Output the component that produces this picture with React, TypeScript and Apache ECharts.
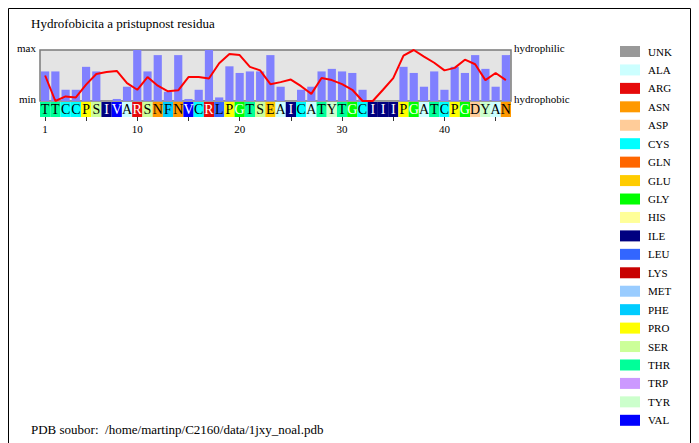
import React, { useEffect, useRef } from "react";
import * as echarts from "echarts";

const sequence = ["T","T","C","C","P","S","I","V","A","R","S","N","F","N","V","C","R","L","P","G","T","S","E","A","I","C","A","T","Y","T","G","C","I","I","I","P","G","A","T","C","P","G","D","Y","A","N"];

const accessibility = [0.58,0.58,0.22,0.22,0.67,0.58,0,0.04,0.28,1.0, 0.58,0.9,0.18,0.9,0.04,0.22,1.0,0.07,0.68,0.55, 0.58,0.58,0.9,0.28,0,0.22,0.28,0.58,0.63,0.58, 0.55,0.22,0,0,0,0.67,0.55,0.28,0.58,0.22, 0.67,0.55,0.9,0.63,0.28,0.9];

const hydrophobicity = [0.5,0,0.09,0.07,0.32,0.53,0.57,0.59,0.35,0.22, 0.47,0.3,0.19,0.21,0.47,0.47,0.44,0.74,0.92,0.9, 0.67,0.6,0.33,0.37,0.42,0.29,0.14,0.45,0.41,0.33, 0.22,0,0,0.22,0.45,0.89,1.0,0.87,0.75,0.6, 0.65,0.81,0.72,0.41,0.55,0.41];

const legendNames = ["UNK","ALA","ARG","ASN","ASP","CYS","GLN","GLU","GLY","HIS","ILE","LEU","LYS","MET","PHE","PRO","SER","THR","TRP","TYR","VAL"];
const legendColors = ["#999999","#ccffff","#e60a0a","#ff9900","#ffcc99","#00ffff","#ff6600","#ffcc00","#00ff00","#ffff99","#000080","#3366ff","#c80000","#99ccff","#00ccff","#ffff00","#ccff99","#00ff99","#cc99ff","#ccffcc","#0000ff"];
const oneToThree: Record<string, string> = { A:"ALA", R:"ARG", N:"ASN", D:"ASP", C:"CYS", Q:"GLN", E:"GLU", G:"GLY", H:"HIS", I:"ILE", L:"LEU", K:"LYS", M:"MET", F:"PHE", P:"PRO", S:"SER", T:"THR", W:"TRP", Y:"TYR", V:"VAL" };
const whiteText = ["ILE","VAL","ARG","GLY","LYS"];

const yLeftLabels = ["min","max"];
const yRightLabels = ["hydrophobic","hydrophilic"];
const titleText = "Hydrofobicita a pristupnost residua";
const footerText = "PDB soubor:\u00a0 /home/martinp/C2160/data/1jxy_noal.pdb";

const FONT = "'Liberation Serif', 'Times New Roman', serif";

export default function App() {
  const ref = useRef<HTMLDivElement>(null);
  useEffect(() => {
    if (!ref.current) return;
    const chart = echarts.init(ref.current, null, { renderer: "svg" });
    const residues = sequence.map((_, i) => String(i + 1));
    const colorOf = (l: string) => legendColors[legendNames.indexOf(oneToThree[l] || "UNK")];
    const stripData = sequence.map((l) => {
      const three = oneToThree[l] || "UNK";
      return {
        value: 1,
        itemStyle: { color: colorOf(l) },
        label: { color: whiteText.includes(three) ? "#ffffff" : "#000000" },
      };
    });
    const edgeRich = { a: { fontSize: 11, fontFamily: FONT, color: "#000", padding: [0, 0, 5, 0] } };
    const option: any = {
      animation: false,
      backgroundColor: "#ffffff",
      title: [
        { text: titleText, left: 31, top: 17, padding: 0, textStyle: { fontSize: 13, fontWeight: "normal", fontFamily: FONT, color: "#000" } },
        { text: footerText, left: 31, top: 423, padding: 0, textStyle: { fontSize: 13, fontWeight: "normal", fontFamily: FONT, color: "#000" } },
      ],
      graphic: [
        { type: "rect", shape: { x: 8.5, y: 8.5, width: 682, height: 460 }, style: { fill: "none", stroke: "#000", lineWidth: 1 }, silent: true, z: -1 },
      ],
      legend: {
        orient: "vertical",
        left: 620,
        top: 46,
        padding: 0,
        icon: "rect",
        itemWidth: 20,
        itemHeight: 11,
        itemGap: 7.44,
        selectedMode: false,
        data: legendNames,
        textStyle: { fontSize: 11, lineHeight: 11, fontFamily: FONT, color: "#000", padding: [0, 0, 0, 3] },
      },
      grid: [
        { left: 40, top: 50, width: 471, height: 51, show: true, backgroundColor: "#e4e4e4", borderColor: "#7a7a7a", borderWidth: 1.5 },
        { left: 40, top: 102, width: 471, height: 15 },
      ],
      xAxis: [
        { type: "category", gridIndex: 0, data: residues, show: false },
        {
          type: "category",
          gridIndex: 1,
          data: residues,
          axisLine: { show: false },
          axisTick: { show: true, alignWithLabel: true, length: 4, lineStyle: { color: "#333" }, interval: (i: number) => i === 0 || (i + 1) % 5 === 0 },
          axisLabel: { interval: (i: number) => i === 0 || (i + 1) % 10 === 0, margin: 6, fontSize: 11, fontFamily: FONT, color: "#000" },
        },
      ],
      yAxis: [
        {
          type: "value", gridIndex: 0, min: 0, max: 1, interval: 1, position: "left",
          axisLine: { show: false }, axisTick: { show: false }, splitLine: { show: false },
          axisLabel: { margin: 4, fontSize: 11, fontFamily: FONT, color: "#000", formatter: (v: number) => "{a|" + yLeftLabels[v] + "}", rich: edgeRich },
        },
        {
          type: "value", gridIndex: 0, min: 0, max: 1, interval: 1, position: "right",
          axisLine: { show: false }, axisTick: { show: false }, splitLine: { show: false },
          axisLabel: { margin: 3, fontSize: 11, fontFamily: FONT, color: "#000", formatter: (v: number) => "{a|" + yRightLabels[v] + "}", rich: edgeRich },
        },
        { type: "value", gridIndex: 1, min: 0, max: 1, show: false },
      ],
      series: [
        { type: "bar", name: "accessibility", xAxisIndex: 0, yAxisIndex: 0, data: accessibility, barCategoryGap: "20%", itemStyle: { color: "#8080ff" }, z: 2 },
        { type: "line", name: "hydrophobicity", xAxisIndex: 0, yAxisIndex: 0, data: hydrophobicity, showSymbol: false, symbol: "none", lineStyle: { color: "#ff0000", width: 2 }, itemStyle: { color: "#ff0000" }, z: 3 },
        {
          type: "bar", name: "sequence", xAxisIndex: 1, yAxisIndex: 2, data: stripData, barCategoryGap: "0%",
          label: { show: true, position: "inside", formatter: (p: any) => sequence[p.dataIndex], fontSize: 14, fontFamily: FONT },
        },
        ...legendNames.map((n, i) => ({ type: "scatter", name: n, xAxisIndex: 1, yAxisIndex: 2, data: [], itemStyle: { color: legendColors[i], opacity: 1 } })),
      ],
    };
    chart.setOption(option);
    return () => chart.dispose();
  }, []);
  return <div ref={ref} style={{ position: "fixed", left: 0, top: 0, width: 699, height: 443 }} />;
}
